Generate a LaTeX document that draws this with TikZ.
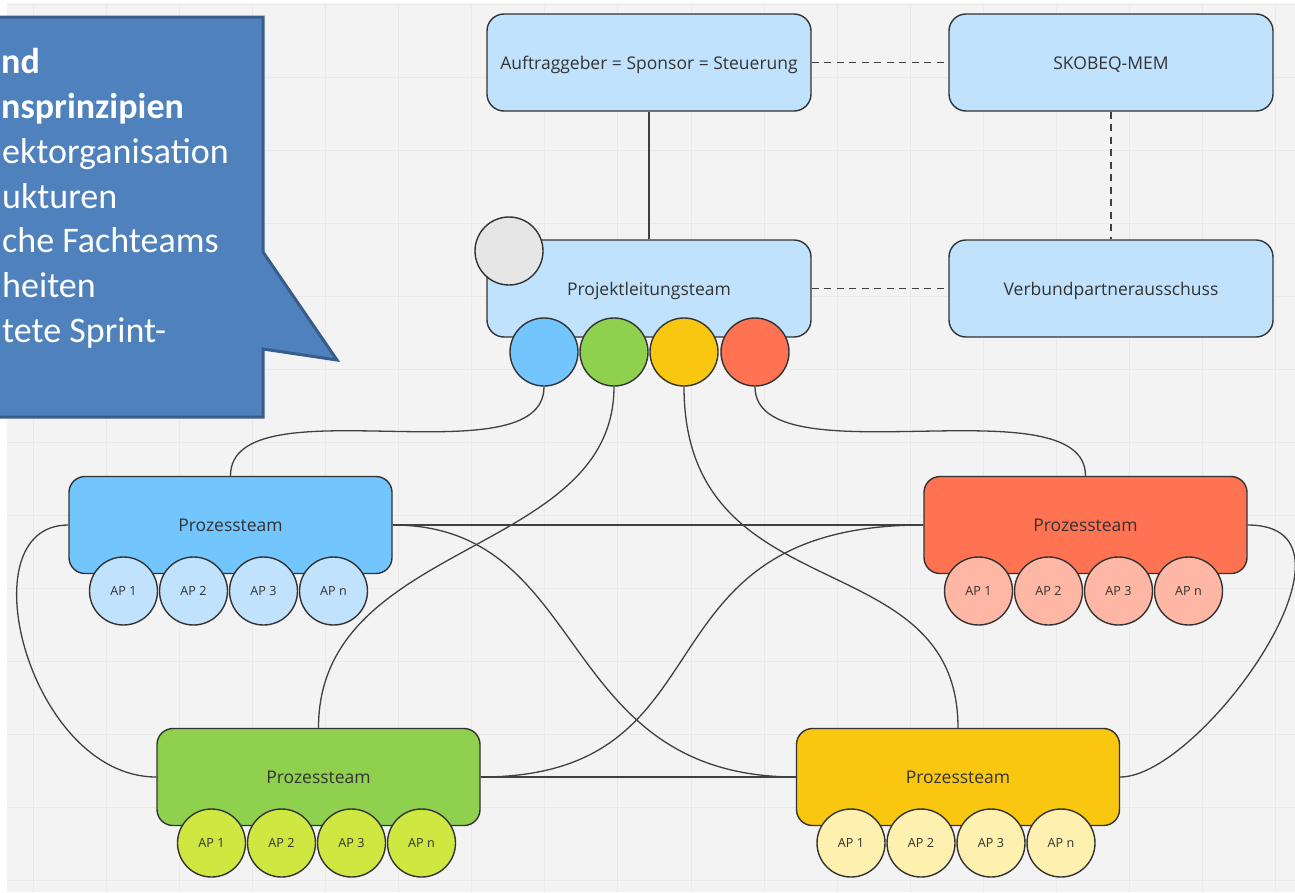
\documentclass[tikz,border=0pt]{standalone}
\usepackage{fontspec}
\setmainfont{Open Sans}
\newfontfamily\calloutfont{Carlito}
\pgfdeclarelayer{gridlayer}
\pgfdeclarelayer{conlayer}
\pgfsetlayers{gridlayer,conlayer,main}
\definecolor{bggray}{HTML}{F3F3F3}
\definecolor{gridcol}{HTML}{E9E9E9}
\definecolor{lightblue}{HTML}{C0E2FD}
\definecolor{cblue}{HTML}{72C5FD}
\definecolor{cgreen}{HTML}{8FD14F}
\definecolor{cyellow}{HTML}{FAC710}
\definecolor{cred}{HTML}{FF7352}
\definecolor{apblue}{HTML}{C0E2FD}
\definecolor{apgreen}{HTML}{CEE741}
\definecolor{apyellow}{HTML}{FEF0AE}
\definecolor{apred}{HTML}{FFB7A5}
\definecolor{cgray}{HTML}{E6E6E6}
\definecolor{strokecol}{HTML}{333333}
\definecolor{textcol}{HTML}{333333}
\definecolor{linecol}{HTML}{404040}
\definecolor{calloutfill}{HTML}{4F81BD}
\definecolor{calloutdraw}{HTML}{385D8A}
\begin{document}
\begin{tikzpicture}[x=1pt,y=-1pt,
  topbox/.style={draw=strokecol, line width=1.4pt, fill=lightblue, rounded corners=17pt,
    minimum width=324pt, minimum height=97pt, inner sep=0pt, text=textcol,
    text height=13pt, text depth=0pt,
    font=\fontsize{17.5}{20}\selectfont},
  pbox/.style={draw=strokecol, line width=1.4pt, rounded corners=16pt,
    minimum width=323pt, minimum height=97pt, inner sep=0pt, text=textcol,
    text height=13.5pt, text depth=0pt,
    font=\fontsize{17.5}{20}\selectfont},
  circ/.style={circle, draw=strokecol, line width=1.4pt, minimum size=68pt, inner sep=0pt,
    text=textcol, text height=9pt, text depth=0pt, font=\fontsize{12.6}{14}\selectfont},
  conn/.style={draw=linecol, line width=1.3pt},
  dconn/.style={draw=linecol, line width=1.3pt, dash pattern=on 7pt off 5.5pt},
  gridline/.style={draw=gridcol, line width=1pt},
  callout/.style={draw=calloutdraw, fill=calloutfill, line width=3pt, line join=miter},
  callouttext/.style={anchor=base west, text=white, inner sep=0pt,
    font=\calloutfont\fontsize{36}{44}\selectfont}
]
\useasboundingbox (0,0) rectangle (1295,892);
\clip (0,0) rectangle (1295,892);
\begin{pgfonlayer}{gridlayer}
  \fill[white] (0,0) rectangle (1295,892);
  \fill[bggray] (7,3) rectangle (1295,892);
  \foreach \i in {0,...,17} \draw[gridline] ({33.3+73.08*\i},3) -- ++(0,889);
  \foreach \j in {0,...,12} \draw[gridline] (7,{4+73.08*\j}) -- (1295,{4+73.08*\j});
\end{pgfonlayer}

% top boxes
\node[topbox] (auftrag) at (649,62.5) {Auftraggeber = Sponsor = Steuerung};
\node[topbox] (skobeq) at (1111,62.5) {SKOBEQ-MEM};
\node[topbox] (plt) at (649,288.5) {Projektleitungsteam};
\node[topbox] (verbund) at (1111,288.5) {Verbundpartnerausschuss};
\node[circ, fill=cgray] (lead) at (509,251) {};
\node[circ, fill=cblue] (cb) at (544,352) {};
\node[circ, fill=cgreen] (cg) at (614,352) {};
\node[circ, fill=cyellow] (cy) at (684,352) {};
\node[circ, fill=cred] (cr) at (755,352) {};

% process teams
\node[pbox, fill=cblue] (pblue) at (230.5,525) {Prozessteam};
\node[pbox, fill=cred] (pred) at (1085.5,525) {Prozessteam};
\node[pbox, fill=cgreen] (pgreen) at (318.5,777) {Prozessteam};
\node[pbox, fill=cyellow] (pyellow) at (958,777) {Prozessteam};

\foreach \nm/\cx/\cy/\col in {b/230.5/525/apblue, r/1085.5/525/apred, g/318.5/777/apgreen, y/958/777/apyellow}{
  \node[circ, fill=\col] (ap\nm1) at (\cx-107,\cy+66) {AP 1};
  \node[circ, fill=\col] (ap\nm2) at (\cx-37,\cy+66) {AP 2};
  \node[circ, fill=\col] (ap\nm3) at (\cx+33,\cy+66) {AP 3};
  \node[circ, fill=\col] (ap\nm4) at (\cx+103,\cy+66) {AP n};
}

% connectors
\begin{pgfonlayer}{conlayer}
  \draw[conn] (auftrag.south) -- (plt.north);
  \draw[dconn] (auftrag.east) -- (skobeq.west);
  \draw[dconn] (skobeq.south) -- (verbund.north);
  \draw[dconn] (plt.east) -- (verbund.west);
  \draw[conn] (cb.south) .. controls +(0,95) and +(0,-95) .. (pblue.north);
  \draw[conn] (cr.south) .. controls +(0,95) and +(0,-95) .. (pred.north);
  \draw[conn] (cg.south) .. controls +(0,170) and +(0,-189) .. (pgreen.north);
  \draw[conn] (cy.south) .. controls +(0,228) and +(0,-189) .. (pyellow.north);
  \draw[conn] (pblue.east) -- (pred.west);
  \draw[conn] (pgreen.east) -- (pyellow.west);
  \draw[conn] (pblue.east) .. controls +(199,0) and +(-242,0) .. (pyellow.west);
  \draw[conn] (pred.west) .. controls +(-295,0) and +(257,0) .. (pgreen.east);
  \draw[conn] (pblue.west) .. controls +(-104,0) and +(-127,0) .. (pgreen.west);
  \draw[conn] (pred.east) .. controls +(133,0) and +(81,0) .. (pyellow.east);
\end{pgfonlayer}

% callout
\draw[callout] (-20,17) -- (263,17) -- (263,252) -- (337,360) -- (263,349) -- (263,417) -- (-20,417) -- cycle;
\node[callouttext] (t1) at (1,73) {\bfseries nd};
\node[callouttext] (t2) at (1,118) {\bfseries nsprinzipien};
\node[callouttext] (t3) at (2,163) {ektorganisation};
\node[callouttext] (t4) at (2,208) {ukturen};
\node[callouttext] (t5) at (2,252) {che Fachteams};
\node[callouttext] (t6) at (2,297) {heiten};
\node[callouttext] (t7) at (2,342) {tete Sprint-};
\end{tikzpicture}
\end{document}
